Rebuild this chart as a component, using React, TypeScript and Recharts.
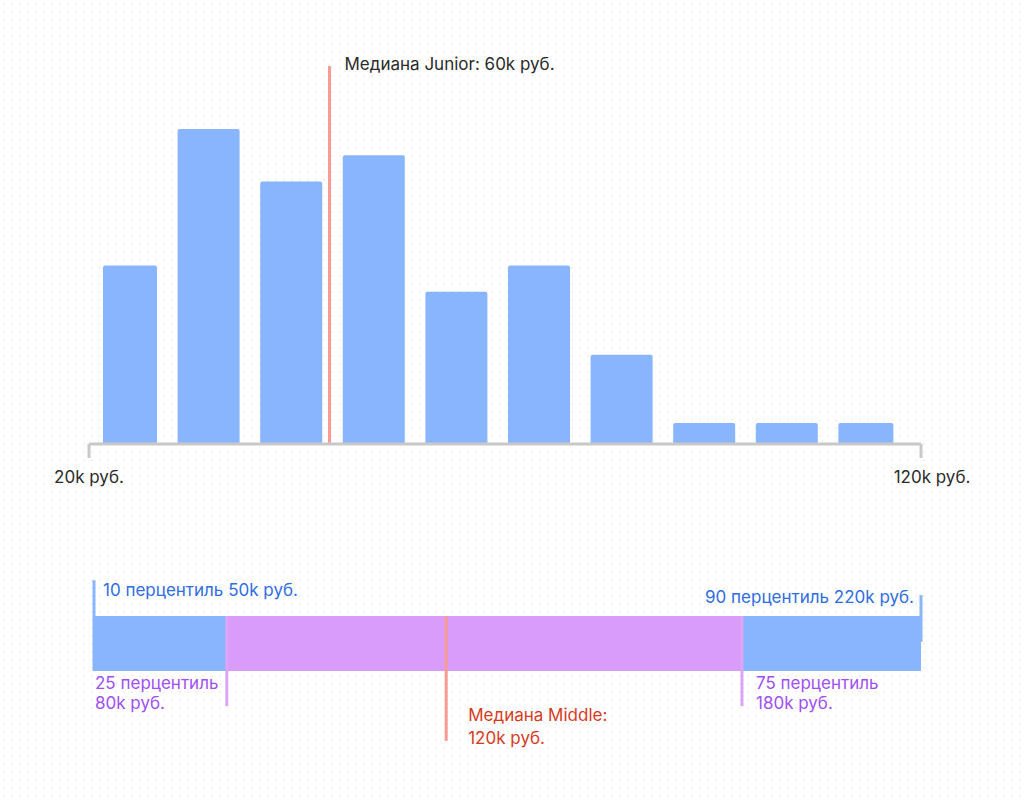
import React from 'react';
import {
  BarChart, Bar, XAxis, YAxis, ReferenceLine, ReferenceArea, ComposedChart, Rectangle
} from 'recharts';

// гистограмма зарплат Junior, корзины по 10k
const binStarts = [20, 30, 40, 50, 60, 70, 80, 90, 100, 110];
const counts = [17, 30, 25, 27.5, 14.5, 17, 8.5, 2, 2, 2];
const axisEndLabels = ['20k руб.', '120k руб.'];
const juniorMedianAt = 49.6; // где линия нарисована на картинке
const juniorMedianText = 'Медиана Junior: 60k руб.';

// перцентили Middle (позиции как на картинке)
const pctMarks = [50, 77.3, 122.4, 183.2, 220];
const pctLabels = [
  '10 перцентиль 50k руб.',
  ['25 перцентиль', '80k руб.'],
  ['Медиана Middle:', '120k руб.'],
  ['75 перцентиль', '180k руб.'],
  '90 перцентиль 220k руб.',
];

const histData = binStarts.map((b, i) => ({ mid: b + 5, count: counts[i] }));
const segments = [
  { from: pctMarks[0], to: pctMarks[1], color: '#88b5fd' },
  { from: pctMarks[1], to: pctMarks[3], color: '#d99cfb' },
  { from: pctMarks[3], to: pctMarks[4], color: '#88b5fd' },
];

const AXIS_GRAY = '#c8c8c8';
const BLUE_TEXT = '#2f6de1';
const PURPLE_TEXT = '#a04ff2';
const RED_TEXT = '#d63b1d';
const FONT = 17;

const HistBar = (props: any) => {
  const { x, y, width, height, index, fill } = props;
  let left = x;
  let w = width;
  if (index === 0) { left += 8; w -= 8; }
  if (index === counts.length - 1) { w -= 7; }
  return <Rectangle x={left} y={y} width={w} height={height} fill={fill} radius={[2, 2, 0, 0]} />;
};

// засечки и подписи на концах оси
const AxisEnds = (props: any) => {
  const { x, y, width } = props.viewBox;
  const right = x + width;
  return (
    <g>
      <line x1={x} y1={y} x2={x} y2={y + 14} stroke={AXIS_GRAY} strokeWidth={3} />
      <line x1={right} y1={y} x2={right} y2={y + 14} stroke={AXIS_GRAY} strokeWidth={3} />
      <text x={x} y={y + 39} textAnchor="middle" fill="#2b2b2b" fontSize={FONT}>{axisEndLabels[0]}</text>
      <text x={right + 11} y={y + 39} textAnchor="middle" fill="#2b2b2b" fontSize={FONT}>{axisEndLabels[1]}</text>
    </g>
  );
};

export default function App() {
  return (
    <div
      style={{
        position: 'absolute', left: 0, top: 0, width: 1024, height: 802, overflow: 'hidden',
        background: '#fff',
        backgroundImage: 'radial-gradient(circle, #ebebeb 0.6px, transparent 0.9px)',
        backgroundSize: '8px 8px',
        fontFamily: 'Inter, "Noto Sans", sans-serif',
      }}
    >
      <div style={{ position: 'absolute', left: 0, top: 0 }}>
        <BarChart width={1024} height={520} data={histData} margin={{ top: 66, right: 103, bottom: 36, left: 89 }}>
          <XAxis
            dataKey="mid" type="number" domain={[20, 120]} allowDataOverflow
            padding={{ left: -4, right: 10 }} height={40}
            axisLine={{ stroke: AXIS_GRAY, strokeWidth: 3 }} tickLine={false} tick={false}
            label={{ content: (p: any) => <AxisEnds {...p} /> }}
          />
          <YAxis hide domain={[0, 36]} />
          <Bar dataKey="count" fill="#88b5fd" barSize={62} shape={<HistBar />} isAnimationActive={false} />
          <ReferenceLine
            x={juniorMedianAt} stroke="#f89b93" strokeWidth={3}
            label={{
              content: (p: any) => (
                <text x={p.viewBox.x + 15} y={p.viewBox.y + 4} fill="#2b2b2b" fontSize={FONT}>{juniorMedianText}</text>
              ),
            }}
          />
        </BarChart>
      </div>

      <div style={{ position: 'absolute', left: 0, top: 540 }}>
        <ComposedChart width={1024} height={240} data={segments} margin={{ top: 76, right: 103, bottom: 109, left: 94 }}>
          <XAxis type="number" dataKey="from" domain={[50, 220]} hide allowDataOverflow />
          <YAxis type="number" domain={[0, 1]} hide allowDataOverflow />
          {segments.map((s, i) => (
            <ReferenceArea
              key={i} x1={s.from} x2={s.to} y1={0} y2={1} fill={s.color} fillOpacity={1} stroke="none"
              ifOverflow="visible"
              label={i === 0 ? {
                content: (p: any) => (
                  <text x={p.viewBox.x + 1} y={p.viewBox.y + 73} fill={PURPLE_TEXT} fontSize={FONT}>
                    <tspan x={p.viewBox.x + 1}>{pctLabels[1][0]}</tspan>
                    <tspan x={p.viewBox.x + 1} dy={20}>{pctLabels[1][1]}</tspan>
                  </text>
                ),
              } : undefined}
            />
          ))}
          <ReferenceLine
            segment={[{ x: pctMarks[0], y: 0 }, { x: pctMarks[0], y: 1.65 }]}
            stroke="#88b5fd" strokeWidth={3} ifOverflow="visible"
            label={{
              content: (p: any) => (
                <text x={p.viewBox.x + 9} y={p.viewBox.y + 16} fill={BLUE_TEXT} fontSize={FONT}>{pctLabels[0] as string}</text>
              ),
            }}
          />
          <ReferenceLine
            segment={[{ x: pctMarks[1], y: -0.64 }, { x: pctMarks[1], y: 1 }]}
            stroke="#dba6f6" strokeWidth={3} ifOverflow="visible"
          />
          <ReferenceLine
            segment={[{ x: pctMarks[3], y: -0.64 }, { x: pctMarks[3], y: 1 }]}
            stroke="#dba6f6" strokeWidth={3} ifOverflow="visible"
            label={{
              content: (p: any) => (
                <text x={p.viewBox.x + 14} y={p.viewBox.y + 73} fill={PURPLE_TEXT} fontSize={FONT}>
                  <tspan x={p.viewBox.x + 14}>{pctLabels[3][0]}</tspan>
                  <tspan x={p.viewBox.x + 14} dy={20}>{pctLabels[3][1]}</tspan>
                </text>
              ),
            }}
          />
          <ReferenceLine
            segment={[{ x: pctMarks[2], y: -1.27 }, { x: pctMarks[2], y: 1 }]}
            stroke="#f89b93" strokeWidth={3} ifOverflow="visible"
            label={{
              content: (p: any) => (
                <text x={p.viewBox.x + 22} y={p.viewBox.y + 105} fill={RED_TEXT} fontSize={FONT}>
                  <tspan x={p.viewBox.x + 22}>{pctLabels[2][0]}</tspan>
                  <tspan x={p.viewBox.x + 22} dy={23}>{pctLabels[2][1]}</tspan>
                </text>
              ),
            }}
          />
          <ReferenceLine
            segment={[{ x: pctMarks[4], y: 0.53 }, { x: pctMarks[4], y: 1.38 }]}
            stroke="#88b5fd" strokeWidth={3} ifOverflow="visible"
            label={{
              content: (p: any) => (
                <text x={p.viewBox.x - 7} y={p.viewBox.y + 8} textAnchor="end" fill={BLUE_TEXT} fontSize={FONT}>{pctLabels[4] as string}</text>
              ),
            }}
          />
        </ComposedChart>
      </div>
    </div>
  );
}
